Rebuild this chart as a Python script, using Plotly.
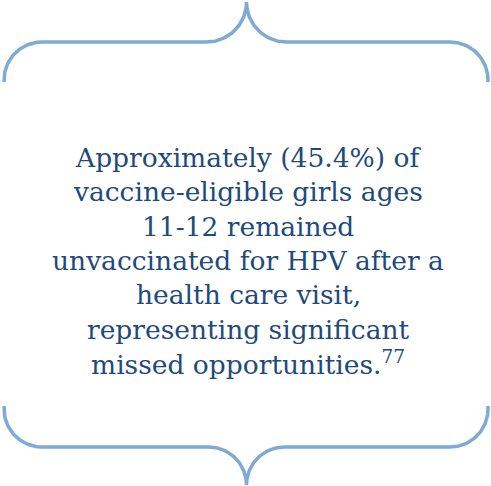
import numpy as np
import plotly.graph_objects as go

# ---- content ----
text_lines = [
    "Approximately (45.4%) of",
    "vaccine-eligible girls ages",
    "11-12 remained",
    "unvaccinated for HPV after a",
    "health care visit,",
    "representing significant",
    "missed opportunities.<sup>77</sup>",
]
line_y = [157, 191, 226, 260, 294, 329, 363]

W, H = 491, 486
BRACE_COLOR = "#7EAAD3"
TEXT_COLOR = "#1F4A7C"


def arc(cx, cy, r, a0, a1, n=40):
    t = np.linspace(np.radians(a0), np.radians(a1), n)
    return list(cx + r * np.cos(t)), list(cy + r * np.sin(t))


def brace(top=True):
    # y grows downward (axis reversed)
    if top:
        yb, yh, yt = 82, 42, 2
    else:
        yb, yh, yt = 406, 447, 485
    xl, xr, xm = 4, 488, 246.5
    rc = 38
    rm = abs(yt - yh)
    xs, ys = [xl], [yb]
    if top:
        ax, ay = arc(xl + rc, yh + rc, rc, 180, 270)
        bx, by = arc(xm - rm, yt, rm, 90, 0)
        cx_, cy_ = arc(xm + rm, yt, rm, 180, 90)
        dx, dy = arc(xr - rc, yh + rc, rc, 270, 360)
    else:
        ax, ay = arc(xl + rc, yh - rc, rc, 180, 90)
        bx, by = arc(xm - rm, yt, rm, -90, 0)
        cx_, cy_ = arc(xm + rm, yt, rm, 180, 270)
        dx, dy = arc(xr - rc, yh - rc, rc, 90, 0)
    xs += ax + bx + cx_ + dx + [xr]
    ys += ay + by + cy_ + dy + [yb]
    return xs, ys


fig = go.Figure()
for top in (True, False):
    bx, by = brace(top)
    fig.add_trace(go.Scatter(x=bx, y=by, mode="lines",
                             line=dict(color=BRACE_COLOR, width=3.5),
                             hoverinfo="skip", showlegend=False))

for t, y in zip(text_lines, line_y):
    fig.add_annotation(x=248, y=y, text=t, showarrow=False,
                       xanchor="center", yanchor="middle",
                       font=dict(family="DejaVu Serif", size=26.5, color=TEXT_COLOR))

fig.update_layout(
    width=W, height=H,
    margin=dict(l=0, r=0, t=0, b=0),
    paper_bgcolor="white", plot_bgcolor="white",
    xaxis=dict(range=[0, W], visible=False, fixedrange=True),
    yaxis=dict(range=[H, 0], visible=False, fixedrange=True),
)
fig.write_html("out.html", config={"displayModeBar": False},
               post_script="document.body.style.margin='0';")
